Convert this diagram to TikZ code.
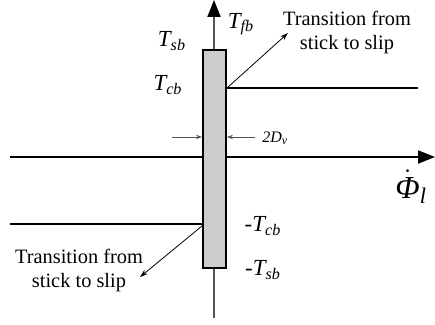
\documentclass[tikz,border=0pt]{standalone}
\usepackage{fontspec}
\setmainfont{Liberation Serif}
\usetikzlibrary{arrows.meta}
\definecolor{barfill}{HTML}{CCCCCC}
\definecolor{axisgrey}{HTML}{555555}
\tikzset{
  axis/.style={-{Triangle[length=8.5pt,width=6.5pt,color=black]}, line width=1pt},
  level/.style={line width=1.2pt},
  bar/.style={rectangle, draw, fill=barfill, line width=1pt,
              minimum width=11.5pt, minimum height=109pt, inner sep=0pt},
  pointer/.style={-{Stealth[length=4pt,width=2.6pt]}, line width=0.4pt},
  gap/.style={-{Stealth[length=3pt,width=2.2pt]}, line width=0.4pt, draw=axisgrey},
  tlab/.style={font=\fontsize{11.5}{12}\selectfont\itshape, inner sep=0pt},
  note/.style={align=center, font=\fontsize{10.2}{12}\selectfont, inner sep=1pt},
}
\newcommand{\phidot}{\ensuremath{\dot{\hbox{\itshape Φ}}}}

\begin{document}
\begin{tikzpicture}[x=0.5pt,y=-0.5pt]
  \useasboundingbox (0,0) rectangle (435,325);

  % axes
  \coordinate (vbot) at (214,318);
  \coordinate (vtop) at (214,0);
  \coordinate (hleft) at (10,157);
  \coordinate (hright) at (435,157);
  \draw[axis, draw=axisgrey] (vbot) -- (vtop);
  \draw[axis] (hleft) -- (hright);

  % stiction band
  \node[bar] (bar) at (214.5,159) {};

  % breakaway levels
  \coordinate (up) at (226,88);
  \coordinate (upend) at (418,88);
  \coordinate (lo) at (10,224);
  \draw[level] (up -| bar.east) -- (upend);
  \draw[level] (lo) -- (lo -| bar.west);

  % labels
  \node[tlab] (tsb) at (172,41) {T\textsubscript{sb}};
  \node[tlab] (tcb) at (168,85) {T\textsubscript{cb}};
  \node[tlab] (tfb) at (241,24) {T\textsubscript{fb}};
  \node[tlab] (mtcb) at (263,226) {-T\textsubscript{cb}};
  \node[tlab] (mtsb) at (263,270) {-T\textsubscript{sb}};
  \node[anchor=west, inner sep=0pt, font=\fontsize{16}{17}\selectfont\itshape] (phi) at (395,187)
    {\phidot\textsubscript{l}};

  % band width
  \coordinate (dl) at (172,137);
  \coordinate (dr) at (255,137);
  \draw[gap] (dl) -- (dl -| bar.west);
  \draw[gap] (dr) -- (dr -| bar.east);
  \node[anchor=west, inner sep=0pt, font=\fontsize{8}{9}\selectfont\itshape] (dv) at (262,138) {2D\textsubscript{v}};

  % transitions
  \node[note] (tu) at (347,32) {Transition from\\stick to slip};
  \node[note] (tl) at (79,270) {Transition from\\stick to slip};
  \coordinate (tuend) at (288,33);
  \coordinate (tlend) at (140,277);
  \draw[pointer] (up -| bar.east) -- (tuend);
  \draw[pointer] (bar.west |- 0,226) -- (tlend);
\end{tikzpicture}
\end{document}
